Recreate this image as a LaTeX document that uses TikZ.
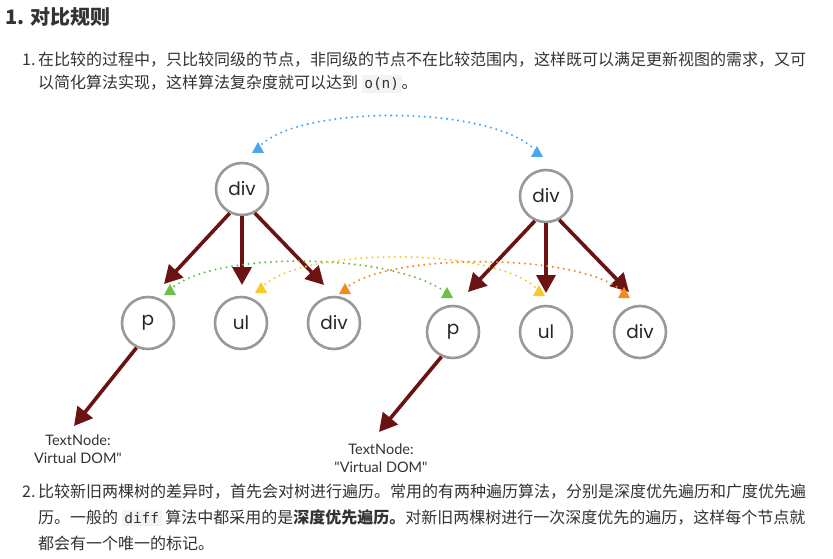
\documentclass[tikz,border=0pt]{standalone}
\usepackage{fontspec}
\setmainfont{Noto Sans CJK SC}
\newfontfamily\cjk{Noto Sans CJK SC}
\newfontfamily\geo{Poppins}
\newfontfamily\lat{Lato}
\setmonofont{DejaVu Sans Mono}
\usetikzlibrary{arrows.meta}
\definecolor{txt}{HTML}{333333}
\definecolor{arr}{HTML}{6B1212}
\definecolor{circ}{HTML}{999999}
\definecolor{cblue}{HTML}{4DA6EC}
\definecolor{cgreen}{HTML}{6CC04A}
\definecolor{cyellow}{HTML}{F5CB2C}
\definecolor{corange}{HTML}{F08C1E}
\definecolor{codebg}{HTML}{F2F3F4}
\newcommand\codebox[1]{{\setlength\fboxsep{2.5pt}\colorbox{codebg}{\ttfamily\fontsize{14.5}{15}\selectfont #1}}}
\tikzset{
  body/.style={anchor=west, inner sep=0pt, text=txt, font=\cjk\fontsize{16}{18}\selectfont},
  vnode/.style={circle, draw=circ, line width=2.6pt, minimum size=52pt, inner sep=0pt, font=\geo\fontsize{18.5}{18}\selectfont, text=black!85},
  tree/.style={draw=arr, line width=3.6pt, -{Triangle[length=18pt,width=19pt]}},
  dotline/.style={line width=2.3pt, line cap=round, dash pattern=on 0pt off 5.6pt},
  tnlabel/.style={align=center, font=\lat\fontsize{14.5}{18}\selectfont, text=black!80, inner sep=0pt}
}
\newcommand\tri[2]{\fill[#1] (#2) +(-6,5) -- +(6,5) -- +(0,-6) -- cycle;}
\begin{document}
\begin{tikzpicture}[x=1pt,y=-1pt]
\useasboundingbox[fill=white] (0,0) rectangle (833,559);
% heading and text
\node[body, font=\cjk\bfseries\fontsize{20}{24}\selectfont] (head) at (5,17) {1. 对比规则};
\node[body] (n1) at (22,60) {1.};
\node[body] (t1a) at (38,60) {在比较的过程中，只比较同级的节点，非同级的节点不在比较范围内，这样既可以满足更新视图的需求，又可};
\node[body] (t1b) at (38,84) {以简化算法实现，这样算法复杂度就可以达到 \codebox{o(n)}。};
\node[body] (n2) at (22,492) {2.};
\node[body] (t2a) at (38,492) {比较新旧两棵树的差异时，首先会对树进行遍历。常用的有两种遍历算法，分别是深度优先遍历和广度优先遍};
\node[body] (t2b) at (38,518) {历。一般的 \codebox{diff} 算法中都采用的是{\bfseries 深度优先遍历。}对新旧两棵树进行一次深度优先的遍历，这样每个节点就};
\node[body] (t2c) at (38,543) {都会有一个唯一的标记。};
% diagram
\begin{scope}
\clip (0,100) rectangle (833,471);
\node[vnode] (d1) at (242,189) {div};
\node[vnode] (d2) at (546,196) {div};
\node[vnode] (p1) at (148,323) {p};
\node[vnode] (u1) at (241,323) {ul};
\node[vnode] (v1) at (334,323) {div};
\node[vnode] (p2) at (453,332) {p};
\node[vnode] (u2) at (546,332) {ul};
\node[vnode] (v2) at (640,332) {div};
\node[tnlabel] (tn1) at (78,449) {TextNode:\\Virtual DOM"};
\node[tnlabel] (tn2) at (381,458) {TextNode:\\"Virtual DOM"};
% arrow tips
\coordinate (e1) at (164,284);
\coordinate (e2) at (242,285);
\coordinate (e3) at (324,285);
\coordinate (e4) at (468,292);
\coordinate (e5) at (546,293);
\coordinate (e6) at (629,292);
\coordinate (e7) at (74,426);
\coordinate (e8) at (379,432);
\draw[tree] (d1.243) -- (e1);
\draw[tree] (d1.270) -- (e2);
\draw[tree] (d1.298) -- (e3);
\draw[tree] (d2.246) -- (e4);
\draw[tree] (d2.270) -- (e5);
\draw[tree] (d2.299) -- (e6);
\draw[tree] (p1.245) -- (e7);
\draw[tree] (p2.245) -- (e8);
% dotted correspondence arcs
\coordinate (b1) at (258,148);
\coordinate (b2) at (537,152);
\coordinate (g1) at (170,290);
\coordinate (g2) at (447,293);
\coordinate (y1) at (261,288);
\coordinate (y2) at (539,291);
\coordinate (o1) at (345,289);
\coordinate (o2) at (624,293);
\draw[dotline, cblue] (b1) .. controls (295,104) and (495,104) .. (b2);
\draw[dotline, cgreen] (g1) .. controls (210,251) and (390,251) .. (g2);
\draw[dotline, cyellow] (y1) .. controls (300,246) and (500,246) .. (y2);
\draw[dotline, corange] (o1) .. controls (385,252) and (585,252) .. (o2);
\tri{cblue}{b1}
\tri{cblue}{b2}
\tri{cgreen}{g1}
\tri{cgreen}{g2}
\tri{cyellow}{y1}
\tri{cyellow}{y2}
\tri{corange}{o1}
\tri{corange}{o2}
\end{scope}
\end{tikzpicture}
\end{document}
